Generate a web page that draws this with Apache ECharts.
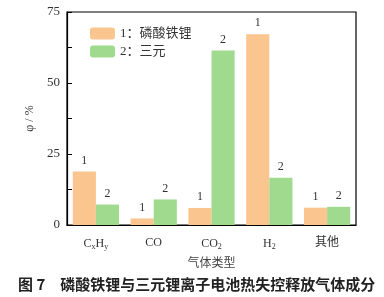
<!DOCTYPE html>
<html><head><meta charset="utf-8">
<script src="https://cdn.jsdelivr.net/npm/echarts@6/dist/echarts.min.js"></script>
<style>html,body{margin:0;padding:0;background:#fff}#c{width:384px;height:297px}</style>
</head><body><div id="c"></div>
<script>
const categories = ['CxHy', 'CO', 'CO2', 'H2', '其他'];
const seriesNames = ['1：磷酸铁锂', '2：三元'];
const lfpValues = [18.8, 2.3, 6.0, 67.2, 6.1];
const nmcValues = [7.2, 9.0, 61.4, 16.6, 6.4];
const barLabels = ['1', '2'];
const yTicks = [0, 25, 50, 75];

const serif = '"Liberation Serif","DejaVu Serif","Noto Sans CJK SC",serif';
const cjk = '"Liberation Serif","Noto Sans CJK SC",serif';

const chart = echarts.init(document.getElementById('c'), null, {renderer: 'canvas'});
const catFmt = {
  'CxHy': '{n|C}{s|x}{n|H}{s|y}',
  'CO': '{n|CO}',
  'CO2': '{n|CO}{s|2}',
  'H2': '{n|H}{s|2}',
  '其他': '{c|其他}'
};
chart.setOption({
  animation: false,
  grid: {left: 67, top: 12, right: 28, bottom: 72, show: true, borderColor: '#000', borderWidth: 1.2, backgroundColor: 'transparent'},
  legend: {
    left: 85, top: 22, orient: 'vertical', itemWidth: 25, itemHeight: 12, itemGap: 5,
    textStyle: {fontFamily: cjk, fontSize: 13, color: '#333'},
    data: seriesNames
  },
  xAxis: {
    type: 'category', data: categories,
    name: '气体类型', nameLocation: 'middle', nameGap: 33,
    nameTextStyle: {fontFamily: cjk, fontSize: 12, color: '#444'},
    axisLine: {lineStyle: {color: '#000', width: 1.2}},
    axisTick: {show: false},
    axisLabel: {
      interval: 0,
      margin: 12,
      formatter: v => catFmt[v],
      rich: {
        n: {fontFamily: serif, fontSize: 12, color: '#333'},
        s: {fontFamily: serif, fontSize: 8, color: '#333', verticalAlign: 'bottom', padding: [6, 0, 0, 0]},
        c: {fontFamily: cjk, fontSize: 12, color: '#333'}
      }
    }
  },
  yAxis: {
    type: 'value', min: yTicks[0], max: yTicks[yTicks.length - 1], interval: 25,
    name: 'φ / %', nameLocation: 'middle', nameGap: 24,
    nameTextStyle: {fontFamily: serif, fontSize: 12, color: '#333'},
    axisLine: {show: true, lineStyle: {color: '#000', width: 1.2}},
    axisTick: {show: true, inside: true, length: 5, lineStyle: {color: '#000'}},
    minorTick: {show: true, splitNumber: 2, length: 5, lineStyle: {color: '#000'}},
    splitLine: {show: false},
    axisLabel: {margin: 7, fontFamily: serif, fontSize: 13, color: '#333'}
  },
  series: [
    {
      name: seriesNames[0], type: 'bar', data: lfpValues, barWidth: '40%', barGap: '0%',
      itemStyle: {color: '#FAC58E'},
      label: {show: true, position: 'top', distance: 5, formatter: barLabels[0], fontFamily: serif, fontSize: 12, color: '#333'}
    },
    {
      name: seriesNames[1], type: 'bar', data: nmcValues, barWidth: '40%', barGap: '0%',
      itemStyle: {color: '#A0DA8E'},
      label: {show: true, position: 'top', distance: 5, formatter: barLabels[1], fontFamily: serif, fontSize: 12, color: '#333'}
    }
  ],
  graphic: [{
    type: 'text', left: 18, top: 277,
    style: {text: '图 7　磷酸铁锂与三元锂离子电池热失控释放气体成分', font: 'bold 15px "Noto Sans CJK SC", sans-serif', fill: '#222'}
  }]
});
</script></body></html>
